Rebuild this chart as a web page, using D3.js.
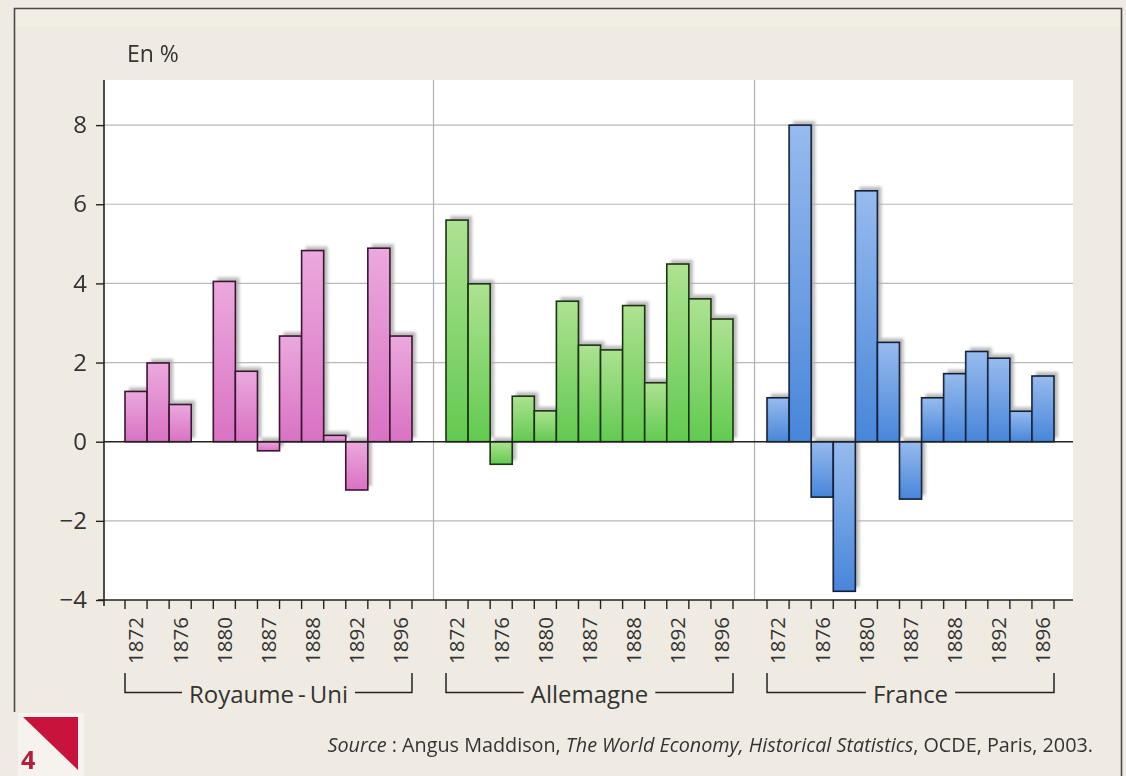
<!DOCTYPE html>
<html>
<head>
<meta charset="utf-8">
<script src="https://cdn.jsdelivr.net/npm/d3@7/dist/d3.min.js"></script>
<style>
  html, body { margin: 0; padding: 0; background: #f0ebe2; }
  svg { display: block; }
  text { font-family: "Open Sans", "Noto Sans", sans-serif; fill: #333; }
</style>
</head>
<body>
<svg id="chart" width="1126" height="776"></svg>
<script>
// Annual GDP growth (%), three countries, 13 observations each
const countries = ["Royaume-Uni", "Allemagne", "France"];
const countryLabels = ["Royaume\u2009-\u2009Uni", "Allemagne", "France"];
const yearLabels = ["1872", "", "1876", "", "1880", "", "1887", "", "1888", "", "1892", "", "1896"];
const ukGrowth = [1.27, 1.99, 0.94, null, 4.05, 1.78, -0.23, 2.67, 4.83, 0.16, -1.22, 4.89, 2.67];
const deGrowth = [5.6, 3.99, -0.57, 1.15, 0.78, 3.55, 2.44, 2.32, 3.44, 1.49, 4.49, 3.61, 3.10];
const frGrowth = [1.11, 8.0, -1.40, -3.78, 6.34, 2.51, -1.45, 1.11, 1.72, 2.28, 2.11, 0.77, 1.66];
const yTicks = [-4, -2, 0, 2, 4, 6, 8];

const series = [ukGrowth, deGrowth, frGrowth];
const palette = [
  { top: "#eba9dd", bottom: "#d972c3", stroke: "#3a1534" },
  { top: "#ade291", bottom: "#62ca50", stroke: "#1c3312" },
  { top: "#97bbee", bottom: "#4886da", stroke: "#131f38" }
];

const svg = d3.select("#chart");
const W = 1126, H = 776;
const plot = { left: 104, right: 1073, top: 80, bottom: 600 };

const y = d3.scaleLinear().domain([-4, 9.14]).range([plot.bottom, plot.top]);
const x0 = d3.scaleBand().domain(countries).range([125, 1054]).paddingInner(0.106).paddingOuter(0);
const x1 = d3.scaleBand().domain(d3.range(yearLabels.length)).range([0, x0.bandwidth()]).padding(0);

const defs = svg.append("defs");
palette.forEach((p, i) => {
  const g = defs.append("linearGradient").attr("id", "fill" + i)
    .attr("x1", 0).attr("y1", 0).attr("x2", 0).attr("y2", 1);
  g.append("stop").attr("offset", "0%").attr("stop-color", p.top);
  g.append("stop").attr("offset", "100%").attr("stop-color", p.bottom);
});
defs.append("filter").attr("id", "soft").attr("x", "-20%").attr("y", "-20%").attr("width", "140%").attr("height", "140%")
  .append("feGaussianBlur").attr("stdDeviation", 1.4);

// page background and frame
svg.append("rect").attr("width", W).attr("height", H).attr("fill", "#f0ebe2");
svg.append("rect").attr("x", 15).attr("y", 9).attr("width", 1106).attr("height", 18).attr("fill", "#f1eee3");
svg.append("path")
  .attr("d", "M14.5,712 V8.5 H1121.5 V776")
  .attr("fill", "none").attr("stroke", "#4a4a4a").attr("stroke-width", 1.6);

// plotting area
svg.append("rect")
  .attr("x", plot.left).attr("y", plot.top)
  .attr("width", plot.right - plot.left).attr("height", plot.bottom - plot.top)
  .attr("fill", "#ffffff");

// horizontal gridlines
svg.append("g").selectAll("line").data(yTicks.filter(v => v !== 0 && v !== -4)).join("line")
  .attr("x1", plot.left).attr("x2", plot.right)
  .attr("y1", d => y(d)).attr("y2", d => y(d))
  .attr("stroke", "#b9b9b9").attr("stroke-width", 1.2);

// vertical separators between countries
svg.append("g").selectAll("line").data(countries.slice(1)).join("line")
  .attr("x1", d => x0(d) - 12.5).attr("x2", d => x0(d) - 12.5)
  .attr("y1", plot.top).attr("y2", plot.bottom)
  .attr("stroke", "#b0b0b0").attr("stroke-width", 1.2);

// bars
const groups = svg.append("g").selectAll("g").data(countries).join("g")
  .attr("transform", d => `translate(${x0(d)},0)`);

groups.each(function (c, gi) {
  const vals = series[gi].map((v, i) => ({ i, v })).filter(d => d.v !== null);
  const g = d3.select(this);
  g.append("g").attr("filter", "url(#soft)").selectAll("rect").data(vals).join("rect")
    .attr("x", d => x1(d.i) + 4)
    .attr("y", d => Math.min(y(d.v), y(0)) - 4)
    .attr("width", x1.bandwidth())
    .attr("height", d => Math.abs(y(d.v) - y(0)))
    .attr("fill", "#aaaaaa").attr("opacity", 0.8);
  g.append("g").selectAll("rect").data(vals).join("rect")
    .attr("x", d => x1(d.i))
    .attr("y", d => Math.min(y(d.v), y(0)))
    .attr("width", x1.bandwidth())
    .attr("height", d => Math.abs(y(d.v) - y(0)))
    .attr("fill", `url(#fill${gi})`)
    .attr("stroke", palette[gi].stroke).attr("stroke-width", 1.6);
});

// zero line
svg.append("line")
  .attr("x1", plot.left).attr("x2", plot.right)
  .attr("y1", y(0)).attr("y2", y(0))
  .attr("stroke", "#222").attr("stroke-width", 1.5);

// y axis
const yAxis = svg.append("g").attr("transform", `translate(${plot.left},0)`)
  .call(d3.axisLeft(y).tickValues(yTicks).tickSize(8).tickPadding(9)
    .tickFormat(d => d < 0 ? "\u2212" + Math.abs(d) : String(d)));
yAxis.select(".domain").remove();
yAxis.selectAll(".tick line").attr("stroke", "#222").attr("stroke-width", 1.4);
yAxis.selectAll(".tick text").style("font-size", "24px").attr("fill", "#333")
  .style("font-family", "'Open Sans', sans-serif");
svg.append("line").attr("x1", plot.left).attr("x2", plot.left)
  .attr("y1", plot.top).attr("y2", plot.bottom + 6)
  .attr("stroke", "#222").attr("stroke-width", 1.6);

// unit label
svg.append("text").attr("x", 127).attr("y", 62).style("font-size", "23px").text("En %");

// x axis line
svg.append("line").attr("x1", plot.left - 6).attr("x2", plot.right)
  .attr("y1", plot.bottom).attr("y2", plot.bottom)
  .attr("stroke", "#222").attr("stroke-width", 1.6);

// ticks at slot boundaries, rotated year labels, group brackets
groups.each(function (c, gi) {
  const g = d3.select(this);
  const edges = d3.range(yearLabels.length + 1).map(i => i * x1.step());
  g.selectAll("line.tick").data(edges).join("line").attr("class", "tick")
    .attr("x1", d => d).attr("x2", d => d)
    .attr("y1", plot.bottom).attr("y2", plot.bottom + 9)
    .attr("stroke", "#222").attr("stroke-width", 1.4);
  g.selectAll("text.year").data(yearLabels.map((t, i) => ({ t, i })).filter(d => d.t)).join("text")
    .attr("class", "year")
    .attr("transform", d => `translate(${x1(d.i) + x1.bandwidth() / 2},617) rotate(-90)`)
    .attr("text-anchor", "end").attr("dy", "0.36em")
    .style("font-size", "20.5px").text(d => d.t);

  const bw = x0.bandwidth();
  const label = g.append("text").attr("x", bw / 2).attr("y", 703)
    .attr("text-anchor", "middle").style("font-size", "24px").text(countryLabels[gi]);
  const tw = label.node().getComputedTextLength();
  const gap = 7;
  g.append("path")
    .attr("d", `M0,673 V692.5 H${bw / 2 - tw / 2 - gap} M${bw / 2 + tw / 2 + gap},692.5 H${bw} V673`)
    .attr("fill", "none").attr("stroke", "#222").attr("stroke-width", 1.5);
});

// source line
const src = svg.append("text").attr("x", 1093).attr("y", 752).attr("text-anchor", "end")
  .style("font-size", "19.8px");
src.append("tspan").style("font-style", "italic").text("Source");
src.append("tspan").text(" : Angus Maddison, ");
src.append("tspan").style("font-style", "italic").text("The World Economy, Historical Statistics");
src.append("tspan").text(", OCDE, Paris, 2003.");

// figure number marker
svg.append("rect").attr("x", 18).attr("y", 713).attr("width", 66).attr("height", 63).attr("fill", "#f6f3ee");
svg.append("path").attr("d", "M23,717 H78 V770 Z").attr("fill", "#c8143c");
svg.append("text").attr("x", 21).attr("y", 769).style("font-size", "25px").style("font-weight", "bold")
  .style("fill", "#b3203c").text("4");
</script>
</body>
</html>
